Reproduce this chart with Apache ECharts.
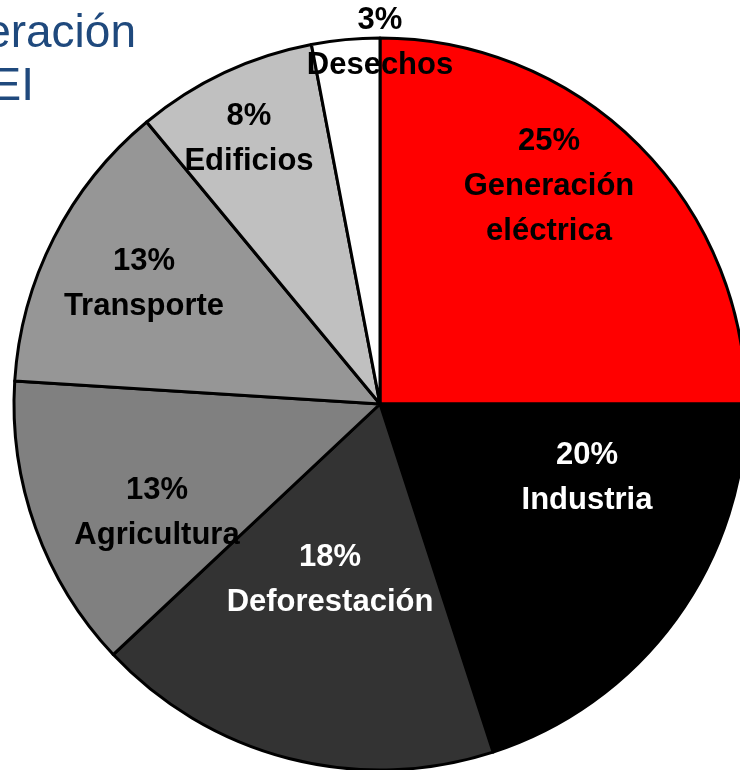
<!DOCTYPE html>
<html>
<head>
<meta charset="utf-8">
<script src="https://cdn.jsdelivr.net/npm/echarts@6/dist/echarts.min.js"></script>
<style>
  html, body { margin: 0; padding: 0; background: #fff; }
  #chart { width: 740px; height: 770px; }
</style>
</head>
<body>
<div id="chart"></div>
<script>
// sectores y porcentajes de emisiones
const sectores = ['Generación\neléctrica', 'Industria', 'Deforestación', 'Agricultura', 'Transporte', 'Edificios', 'Desechos']
const porcentajes = [25, 20, 18, 13, 13, 8, 3]
const colores = ['#ff0000', '#000000', '#333333', '#808080', '#969696', '#c0c0c0', '#ffffff']
const colorTexto = ['#000', '#fff', '#fff', '#000', '#000', '#000', '#000']

// centro de cada etiqueta en px (colocadas a mano como en la diapositiva)
const posEtiquetas = [[549, 186], [587, 478], [330, 580], [157, 513], [144, 284], [249, 139], [380, 43]]

const chart = echarts.init(document.getElementById('chart'))

const option = {
  animation: false,
  graphic: [
    {
      type: 'text', x: 136, y: 11,
      style: { text: 'Generación', fill: '#1f497d', font: '46px "Liberation Sans", Arial', textAlign: 'right' }
    },
    {
      type: 'text', x: 34, y: 64,
      style: { text: 'GEI', fill: '#1f497d', font: '46px "Liberation Sans", Arial', textAlign: 'right' }
    }
  ],
  series: [
    {
      type: 'pie',
      center: [380, 404],
      radius: 366,
      startAngle: 90,
      clockwise: true,
      avoidLabelOverlap: false,
      itemStyle: {
        borderColor: '#000',
        borderWidth: 3
      },
      label: {
        show: true,
        position: 'inside',
        fontFamily: '"Liberation Sans", Arial',
        fontWeight: 'bold',
        fontSize: 31,
        lineHeight: 45,
        formatter: p => p.value + '%\n' + p.name
      },
      labelLine: { show: false },
      labelLayout: p => ({
        x: posEtiquetas[p.dataIndex][0],
        y: posEtiquetas[p.dataIndex][1],
        align: 'center',
        verticalAlign: 'middle'
      }),
      data: sectores.map((s, i) => ({
        name: s,
        value: porcentajes[i],
        itemStyle: { color: colores[i] },
        label: { color: colorTexto[i] }
      }))
    }
  ]
}

chart.setOption(option)
</script>
</body>
</html>
